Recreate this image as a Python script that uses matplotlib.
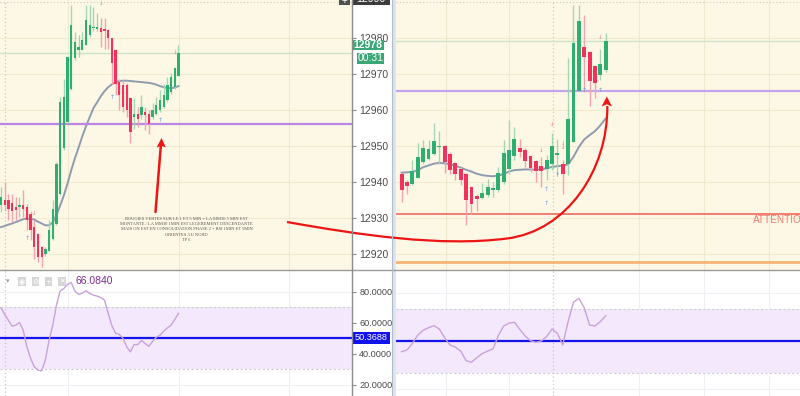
import matplotlib
matplotlib.use("Agg")
import matplotlib.pyplot as plt
import numpy as np
from matplotlib.patches import Rectangle, Polygon, PathPatch
from matplotlib.path import Path

plt.rcParams["font.family"] = ["Liberation Sans", "DejaVu Sans"]

# ---- left chart (1 min) ----
l_open = [12933.5, 12934.9, 12934.9, 12934.2, 12933.1, 12933.1, 12933.5, 12933.1, 12931.2, 12927.5,
          12925.7, 12922.0, 12920.1, 12921.0, 12924.3, 12928.5, 12936.8, 12949.3, 12956.7, 12965.9,
          12974.3, 12976.6, 12976.6, 12978.0, 12980.7, 12982.6, 12982.5, 12982.6, 12982.3, 12982.1,
          12979.8, 12976.6, 12967.8, 12966.9, 12966.9, 12963.2, 12958.1, 12959.0, 12958.5, 12959.4,
          12959.0, 12958.1, 12959.0, 12959.9, 12960.8, 12962.7, 12965.0, 12966.4, 12969.4]
l_high = [12938.6, 12940.0, 12936.8, 12936.8, 12935.8, 12935.8, 12937.7, 12934.0, 12932.1, 12929.4,
          12926.0, 12922.4, 12922.0, 12929.4, 12934.9, 12945.5, 12963.6, 12968.7, 12975.0, 12989.1,
          12981.7, 12980.8, 12981.7, 12989.1, 12989.1, 12988.6, 12986.8, 12985.4, 12985.4, 12982.3,
          12980.0, 12977.0, 12968.5, 12968.3, 12967.5, 12963.5, 12963.2, 12960.8, 12964.1, 12960.8,
          12959.9, 12961.8, 12963.6, 12965.5, 12967.3, 12969.2, 12970.1, 12972.0, 12978.0]
l_low = [12931.7, 12932.1, 12929.4, 12928.9, 12929.4, 12930.3, 12930.3, 12926.6, 12923.8, 12918.7,
         12917.8, 12916.4, 12919.6, 12921.0, 12924.0, 12928.0, 12936.5, 12949.0, 12956.5, 12965.5,
         12973.8, 12974.7, 12976.5, 12977.9, 12980.3, 12982.0, 12982.0, 12977.5, 12977.0, 12977.0,
         12967.3, 12964.1, 12959.9, 12959.5, 12958.0, 12950.7, 12954.8, 12955.3, 12957.6, 12954.4,
         12953.4, 12957.6, 12958.5, 12959.4, 12960.4, 12962.2, 12964.5, 12965.9, 12969.4]
l_close = [12935.8, 12933.5, 12932.6, 12932.1, 12932.3, 12933.5, 12932.6, 12929.4, 12926.6, 12922.0,
           12919.2, 12919.2, 12921.5, 12926.6, 12932.6, 12945.1, 12962.2, 12963.6, 12974.7, 12983.5,
           12978.9, 12977.5, 12979.4, 12984.9, 12983.5, 12982.7, 12982.7, 12981.7, 12981.9, 12979.8,
           12972.9, 12967.3, 12964.1, 12960.8, 12959.9, 12953.9, 12959.0, 12957.6, 12960.8, 12958.5,
           12956.2, 12959.9, 12961.3, 12962.7, 12964.1, 12966.9, 12969.2, 12971.5, 12975.7]
l_ma = [12927.5, 12927.8, 12928.2, 12928.5, 12928.9, 12929.3, 12929.7, 12929.9, 12929.8, 12929.6,
        12929.0, 12928.5, 12928.0, 12928.0, 12928.8, 12930.8, 12933.5, 12936.3, 12939.6, 12943.3,
        12946.6, 12949.6, 12952.7, 12955.5, 12958.0, 12960.5, 12962.1, 12963.8, 12965.2, 12966.3,
        12967.1, 12967.7, 12968.0, 12968.1, 12968.1, 12968.0, 12967.9, 12967.8, 12967.7, 12967.6,
        12967.5, 12967.3, 12967.0, 12966.6, 12966.3, 12966.1, 12966.0, 12966.2, 12966.6]
l_rsi = [69.7, 65.4, 61.7, 57.9, 58.5, 60.2, 55.3, 44.6, 37.1, 31.7, 29.6, 29.0, 36.1, 48.7, 58.5,
         71.4, 80.4, 82.1, 84.7, 86.0, 80.4, 78.3, 79.1, 80.6, 78.9, 77.8, 77.2, 76.3, 74.6, 66.0,
         58.1, 53.2, 52.5, 50.0, 44.6, 41.3, 46.0, 46.0, 48.7, 46.6, 44.9, 48.1, 50.7, 52.0, 54.6,
         56.7, 58.5, 62.1, 66.08]
l_support = 12956.1
l_last = 12975.7
l_up_marks = [(7, 12924.4), (30, 12963.3), (43, 12957.1)]
l_dn_marks = [(9, 12931.2), (27, 12989.6), (47, 12976.0)]

# ---- right chart (5 min) ----
r_open = [12942.1, 12940.0, 12939.4, 12941.2, 12945.6, 12946.5, 12947.7, 12949.6, 12950.0, 12947.9,
          12945.3, 12943.7, 12942.1, 12938.6, 12936.1, 12935.7, 12936.3, 12937.8, 12937.7, 12940.0,
          12943.7, 12947.1, 12949.5, 12949.0, 12947.2, 12945.8, 12944.4, 12943.7, 12945.1, 12947.6,
          12944.9, 12945.1, 12951.1, 12965.3, 12977.5, 12976.1, 12972.2, 12969.6, 12971.0]
r_high = [12942.5, 12940.5, 12946.2, 12950.7, 12951.6, 12951.6, 12956.4, 12954.2, 12950.3, 12948.2,
          12945.6, 12944.2, 12942.5, 12939.0, 12936.8, 12939.7, 12940.9, 12940.0, 12944.2, 12951.6,
          12957.1, 12955.3, 12951.8, 12949.3, 12947.5, 12946.0, 12947.0, 12947.4, 12953.6, 12952.0,
          12946.0, 12974.3, 12989.1, 12989.1, 12986.3, 12976.3, 12972.4, 12977.0, 12981.2]
r_low = [12934.5, 12936.8, 12939.1, 12941.0, 12945.0, 12946.0, 12947.5, 12945.1, 12942.5, 12942.3,
         12940.5, 12939.1, 12928.0, 12931.2, 12932.1, 12935.4, 12935.8, 12935.8, 12937.2, 12939.5,
         12942.3, 12946.0, 12947.0, 12944.2, 12942.8, 12940.0, 12938.6, 12940.5, 12943.3, 12941.9,
         12936.8, 12941.9, 12951.1, 12965.3, 12965.0, 12961.0, 12963.4, 12968.3, 12970.6]
r_close = [12937.9, 12938.8, 12943.1, 12947.0, 12949.3, 12949.1, 12951.4, 12950.0, 12945.6, 12943.3,
           12942.1, 12940.5, 12934.9, 12934.0, 12935.4, 12937.0, 12938.6, 12938.3, 12942.5, 12948.1,
           12948.8, 12951.8, 12948.3, 12945.8, 12944.0, 12943.1, 12943.1, 12946.0, 12950.0, 12947.9,
           12942.3, 12957.4, 12978.6, 12984.6, 12974.7, 12968.1, 12967.5, 12972.6, 12979.2]
r_ma = [12942.6, 12942.7, 12942.8, 12943.3, 12944.1, 12944.6, 12945.1, 12945.3, 12945.2, 12944.9,
        12944.5, 12944.0, 12943.4, 12942.9, 12942.3, 12941.9, 12941.7, 12941.6, 12941.8, 12942.2,
        12942.9, 12943.3, 12943.4, 12943.5, 12943.5, 12943.4, 12943.5, 12943.8, 12944.2, 12944.4,
        12944.5, 12944.9, 12947.0, 12949.7, 12951.8, 12953.0, 12954.1, 12955.7, 12957.6]
r_rsi = [43.5, 44.6, 48.7, 53.9, 56.9, 58.5, 59.8, 57.7, 52.3, 47.7, 46.4, 43.9, 37.9, 36.9, 39.8,
         42.3, 43.9, 45.2, 53.5, 59.6, 61.4, 61.9, 57.5, 53.3, 50.4, 49.4, 50.2, 52.9, 57.7, 55.0,
         47.7, 62.3, 74.4, 76.9, 71.0, 60.2, 59.6, 62.3, 66.0]
r_support = 12965.3
r_last = 12979.2
r_attention = 12931.2
r_orange = 12917.7
r_up_marks = [(27, 12937.9), (27, 12934.1), (29, 12941.9), (34, 12965.5), (37, 12965.5)]
r_dn_marks = [(26, 12948.8), (28, 12956.0), (30, 12950.8), (30, 12949.6), (37, 12980.2)]

rsi_value = 50.3688
price_ticks = [12920, 12930, 12940, 12950, 12960, 12970, 12980]
rsi_ticks = [20, 40, 60, 80]

note = ["BOUGIES VERTES SUR LE 1 ET 5 MIN + LA MM30 5 MIN EST",
        "MONTANTE / LA MM30 1MIN EST LEGEREMENT DESCENDANTE",
        "MAIS ON EST EN CONSOLIDATION PHASE 2 + RSI 1MIN ET 5MIN",
        "ORIENTES AU NORD",
        "TP 6"]

UP, DN = "#2fae72", "#f2325a"
WUP, WDN = "#a3d6b6", "#f5a3b1"
CREAM = "#fdf8e5"
W, H = 800, 396


def box(x0, y0, x1, y1):
    return [x0 / W, 1 - y1 / H, (x1 - x0) / W, (y1 - y0) / H]


def candles(ax, o, h, l, c, width):
    o, h, l, c = map(np.asarray, (o, h, l, c))
    x = np.arange(len(o))
    up = c >= o
    ax.vlines(x, l, h, colors=np.where(up, WUP, WDN), lw=1, zorder=3)
    body = np.maximum(np.abs(c - o), 0.35)
    ax.bar(x, body, bottom=np.minimum(o, c), width=width,
           color=np.where(up, UP, DN), lw=0, zorder=4)


def marks(ax, ups, dns):
    for i, p in ups:
        ax.text(i, p, "↑", color="#6f9fe0", fontsize=4.5, ha="center", va="center",
                family="DejaVu Sans", zorder=5)
    for i, p in dns:
        ax.text(i, p, "↓", color="#f07a8a", fontsize=4, ha="center", va="center",
                family="DejaVu Sans", zorder=5)


fig = plt.figure(figsize=(8, 3.96), dpi=100)
fig.patch.set_facecolor("white")

axL = fig.add_axes(box(0, 0, 351.5, 269.5))
axR = fig.add_axes(box(396, 0, 800, 269.5))
axLr = fig.add_axes(box(0, 270, 351.5, 396))
axRr = fig.add_axes(box(396, 270, 800, 396))

ylo, yhi = 12915.75, 12990.47
axL.set_xlim(-0.27, 94.8)
axR.set_xlim(-1.06, 74.2)
axLr.set_xlim(-0.27, 94.8)
axRr.set_xlim(-1.06, 74.2)
for ax in (axL, axR):
    ax.set_ylim(ylo, yhi)
    ax.set_facecolor(CREAM)
    for p in price_ticks:
        ax.axhline(p, color="#f1e9d0", lw=0.8, zorder=0)
    ax.axhline(12990.0, color="#c8c8c8", lw=0.8, ls=(0, (1, 2)), zorder=1)
axLr.set_ylim(12.9, 94.0)
axRr.set_ylim(15.8, 94.6)

for gx in [18.2, 48.1, 78.0]:
    axL.axvline(gx, color="#f0e8cf", lw=0.8, zorder=0)
    axLr.axvline(gx, color="#eef0f5", lw=0.8, zorder=0)
for gx in [8.2, 20.0, 44.2, 56.3, 68.4]:
    axR.axvline(gx, color="#f0e8cf", lw=0.8, zorder=0)
    axRr.axvline(gx, color="#eef0f5", lw=0.8, zorder=0)
for ax, gx in ((axL, 1.1), (axLr, 1.1), (axR, 28.2), (axRr, 28.2)):
    ax.axvline(gx, color="#c8c8c8", lw=0.9, ls=(0, (1, 2)), zorder=1)

# price panels
candles(axL, l_open, l_high, l_low, l_close, 0.62)
candles(axR, r_open, r_high, r_low, r_close, 0.72)
axL.plot(np.arange(len(l_ma)), l_ma, color="#8f9bb0", lw=1.4, zorder=2)
axR.plot(np.arange(len(r_ma)), r_ma, color="#8f9bb0", lw=1.4, zorder=2)
axL.axhline(l_support, color="#b986e6", lw=1.6, zorder=2)
axR.axhline(r_support, color="#c3a5ee", lw=1.6, zorder=2)
axL.axhline(l_last, color="#cfe3c8", lw=1, zorder=1)
axR.axhline(r_last, color="#cfe3c8", lw=1, zorder=1)
axR.axhline(r_attention, color="#f06a5e", lw=1.2, zorder=2)
axR.axhline(r_orange, color="#f5b476", lw=2, zorder=2)
axR.text(65.4, 12929.4, "ATTENTION", color="#f37a72", fontsize=7.2, va="center",
         ha="left", clip_on=True)
marks(axL, l_up_marks, l_dn_marks)
marks(axR, r_up_marks, r_dn_marks)

# rsi panels
for ax, vals in ((axLr, l_rsi), (axRr, r_rsi)):
    ax.set_facecolor("white")
    for t in rsi_ticks:
        ax.axhline(t, color="#f0f1f5", lw=0.8, zorder=0)
    ax.axhspan(30, 70, color="#f4e8fc", zorder=0.5, lw=0)
    ax.axhline(30, color="#cfcfcf", lw=0.8, ls=(0, (2, 2)), zorder=1)
    ax.axhline(70, color="#cfcfcf", lw=0.8, ls=(0, (2, 2)), zorder=1)
    ax.axhline(rsi_value, color="#1414ee", lw=1.6, zorder=2)
    ax.plot(np.arange(len(vals)), vals, color="#c9a2dc", lw=1, zorder=3)

for ax in (axL, axR, axLr, axRr):
    ax.set_xticks([])
    for s in ax.spines.values():
        s.set_visible(False)
axR.set_yticks([])
axRr.set_yticks([])
for ax, ticks, fmt in ((axL, price_ticks, "{:.0f}"), (axLr, rsi_ticks, "{:.4f}")):
    ax.yaxis.tick_right()
    ax.set_yticks(ticks)
    ax.set_yticklabels([fmt.format(t) for t in ticks])
    ax.tick_params(axis="y", length=3, width=0.8, color="#8a8a8a", pad=2.5,
                   labelsize=7.5 if ax is axL else 6.6, labelcolor="#4a4a4a")

# overlay in pixel coordinates for the chrome and the drawn notes
ov = fig.add_axes([0, 0, 1, 1])
ov.set_xlim(0, W)
ov.set_ylim(H, 0)
ov.axis("off")
ov.patch.set_alpha(0)
ov.set_zorder(10)

ov.plot([0, W], [269.5, 269.5], color="#9c9c9c", lw=1)
ov.plot([351.5, 351.5], [0, H], color="#8c8c8c", lw=1)
ov.add_patch(Rectangle((391.5, 0), 4.5, H, color="#dfe5ee", lw=0))
ov.plot([391.5, 391.5], [0, H], color="#b0bbcc", lw=0.8)

ov.add_patch(Rectangle((338.5, -3), 11.5, 8, color="#505050", lw=0))
ov.text(344.2, 1.2, "+", color="white", fontsize=7, ha="center", va="center")
ov.add_patch(Rectangle((352.5, -6), 37, 11, color="#3c3c3c", lw=0))
ov.text(371, -0.5, "12990", color="white", fontsize=7.5, ha="center", va="center")
ov.add_patch(Rectangle((352.5, 39.5), 31, 10, color="#3aa876", lw=0))
ov.text(368, 44.8, "12978", color="white", fontsize=7.5, fontweight="bold",
        ha="center", va="center")
ov.add_patch(Rectangle((357, 53), 26.5, 10.5, color="#3aa876", lw=0))
ov.text(370.2, 58.4, "00:31", color="white", fontsize=7.5, ha="center", va="center")
ov.add_patch(Rectangle((352.5, 332), 37.5, 11.5, color="#1010f0", lw=0))
ov.text(371.2, 337.9, "50.3688", color="white", fontsize=6.6, ha="center", va="center")

ov.text(7.5, 281.5, "▾", color="#a0a0a0", fontsize=5, ha="center", va="center",
        family="DejaVu Sans")
for bx, sym in zip([18.3, 31.7, 45.0, 58.3], ["◉", "⚙", "+", "✕"]):
    ov.add_patch(Rectangle((bx, 277.3), 7.4, 8.4, color="#d6d6d6", lw=0))
    ov.text(bx + 3.7, 281.6, sym, color="white", fontsize=5, ha="center", va="center",
            family="DejaVu Sans")
ov.text(75, 281.5, "66.0840", color="#7e2a92", fontsize=7.5, ha="left", va="center")

# note text
for k, line in enumerate(note):
    ov.text(186.5, 219.3 + 5.1 * k, line, color="#555555", fontsize=3.25,
            family="Liberation Serif", ha="center", va="center")

# straight red arrow
RED = "#ee1414"
ov.plot([155.5, 160.8], [212, 146], color=RED, lw=1.8, solid_capstyle="round")
ov.add_patch(Polygon([[161.5, 138.0], [156.6, 147.6], [161.1, 145.8], [165.8, 147.4]],
                     closed=True, color=RED, lw=0))

# curved red arrow
verts = [(287, 222), (360, 235), (440, 247), (507, 238.5),
         (567, 231), (608, 170), (607.3, 106)]
codes = [Path.MOVETO] + [Path.CURVE4] * 6
ov.add_patch(PathPatch(Path(verts, codes), fill=False, edgecolor=RED, lw=1.6))
ov.add_patch(Polygon([[606.8, 96.5], [601.6, 106.5], [606.9, 104.3], [612.0, 106.5]],
                     closed=True, color=RED, lw=0))

fig.savefig("out.png", dpi=100)
